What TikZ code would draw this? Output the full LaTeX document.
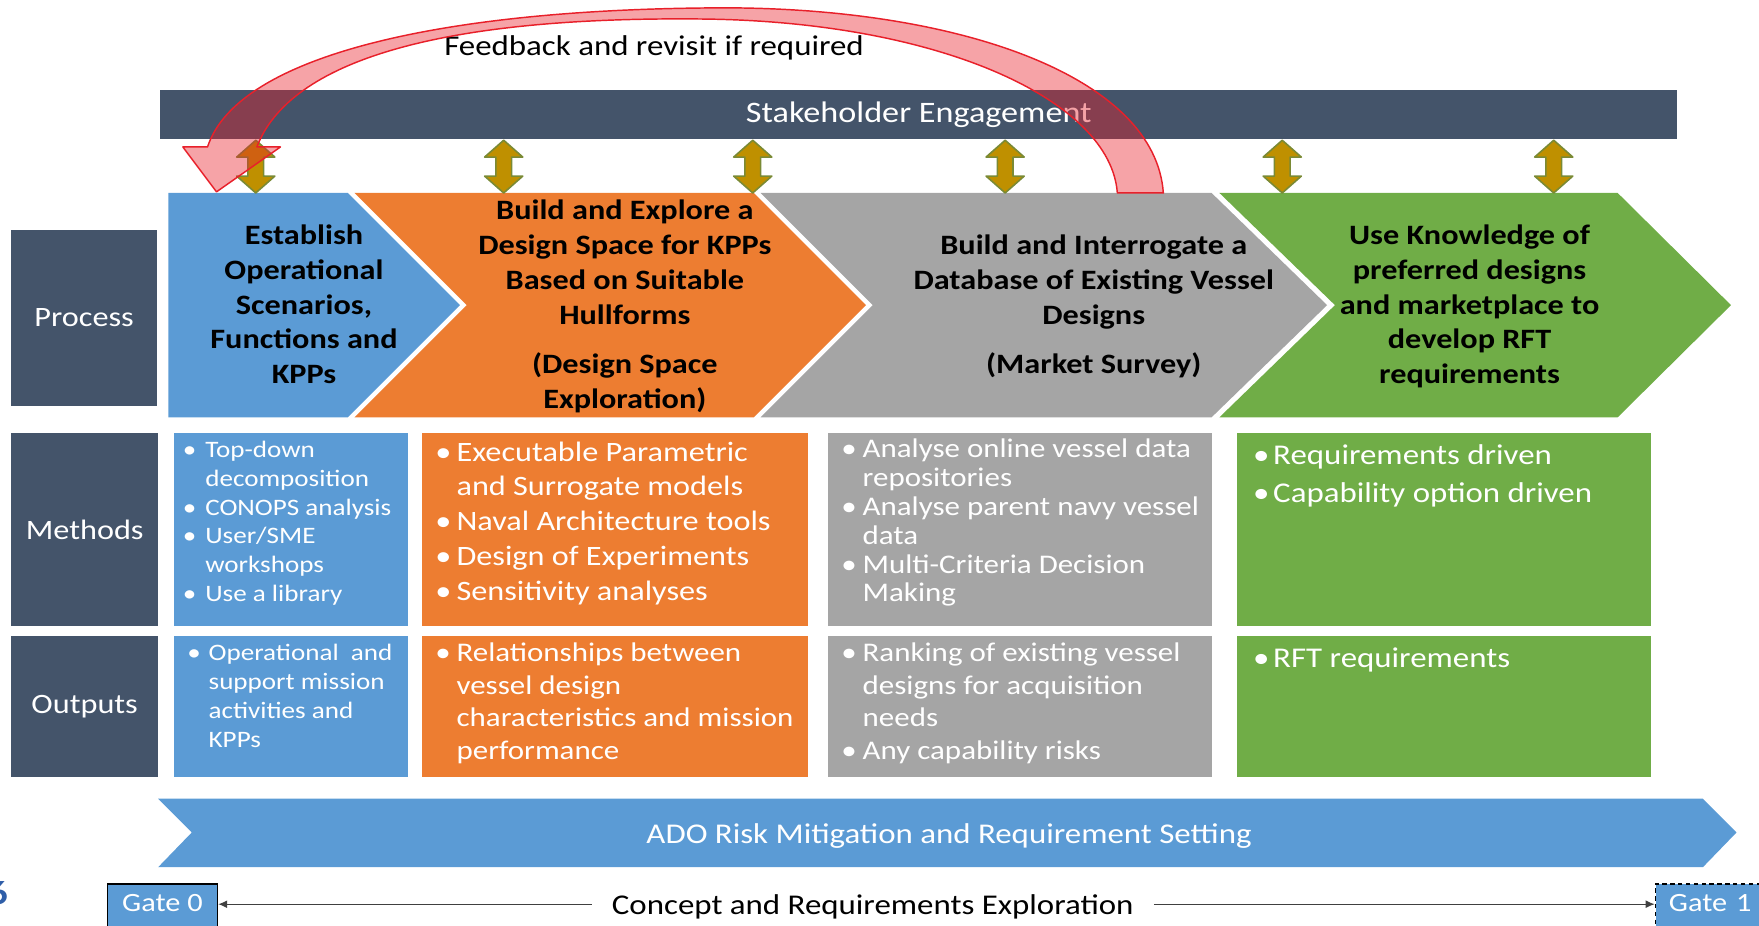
\documentclass[tikz,border=0pt]{standalone}
\usepackage{fontspec}
\setmainfont{Carlito}[FakeStretch=1.15]
\usetikzlibrary{arrows.meta}
\definecolor{slate}{HTML}{44546A}
\definecolor{cblue}{HTML}{5B9BD5}
\definecolor{corange}{HTML}{ED7D31}
\definecolor{cgray}{HTML}{A5A5A5}
\definecolor{cgreen}{HTML}{70AD47}
\definecolor{cgold}{HTML}{BF9000}
\definecolor{colive}{HTML}{7A8A35}
\definecolor{cred}{HTML}{E8202A}
\definecolor{numblue}{HTML}{2F5EA8}
\newcommand{\fsz}[2]{\fontsize{#1}{#2}\selectfont}
\newcommand{\bu}[1]{\makebox[#1][l]{\textbullet}}
\newcommand{\hi}[1]{\hspace*{#1}}
\newcommand{\tp}{\rule{0pt}{20pt}}
\begin{document}
\begin{tikzpicture}[x=1pt,y=-1pt,
  txt/.style={inner sep=0,outer sep=0},
  cell/.style={anchor=north west,inner sep=0,outer sep=0,draw=none,minimum width=#1},
  lab/.style={fill=slate,text=white,font=\fsz{25}{30},inner sep=0,outer sep=0},
  dbl/.style={fill=cgold,draw=colive,line width=1.4,line join=round},
  gl/.style={draw=black!75,line width=1,-{Latex[length=8pt,width=7pt]}},
  gate/.style={anchor=north west,fill=cblue,draw=black,line width=1.5,text=white,
     font=\fsz{23.5}{28},minimum height=58,inner ysep=0,text height=17,text depth=25},
  chev/.style={txt,anchor=north,align=center,font=\bfseries\fsz{25}{31}},
  lst/.style={txt,anchor=north west,align=left,text=white}]
\useasboundingbox (0,0) rectangle (1568,825);

% page number fragment
\node[txt,anchor=base east,font=\bfseries\fsz{30}{30},text=numblue] (pg) at (7,806) {6};

% stakeholder bar
\node[lab,minimum width=1352,minimum height=44,font=\fsz{26.5}{30}] (stake) at (819,102) {Stakeholder Engagement};
\node[txt,font=\fsz{25.5}{30}] (fb) at (583,43) {Feedback and revisit if required};

% process chevrons
\fill[cblue] (150,172) -- (310,172) -- (410,272) -- (310,372) -- (150,372) -- cycle;
\fill[corange] (316,172) -- (672,172) -- (772,272) -- (672,372) -- (316,372) -- (416,272) -- cycle;
\fill[cgray] (678,172) -- (1080,172) -- (1183,272) -- (1080,372) -- (678,372) -- (778,272) -- cycle;
\fill[cgreen] (1087,172) -- (1442,172) -- (1543,272) -- (1442,372) -- (1087,372) -- (1190,272) -- cycle;

\node[chev] (tB) at (271,198) {\tp Establish\\Operational\\Scenarios,\\Functions and\\KPPs};
\node[chev] (tO) at (557,176) {\tp Build and Explore a\\Design Space for KPPs\\Based on Suitable\\Hullforms\\[13pt](Design Space\\Exploration)};
\node[chev] (tG) at (975,207) {\tp Build and Interrogate a\\Database of Existing Vessel\\Designs\\[13pt](Market Survey)};
\node[chev] (tN) at (1310,198) {\tp Use Knowledge of\\preferred designs\\and marketplace to\\develop RFT\\requirements};

% row labels
\node[lab,minimum width=130,minimum height=157] (proc) at (75,283.5) {Process};
\node[lab,minimum width=131,minimum height=172] (meth) at (75.5,472) {Methods};
\node[lab,minimum width=131,minimum height=126] (outp) at (75.5,630) {Outputs};

% methods boxes
\node[cell=209,fill=cblue,minimum height=172] (mB) at (155,386) {};
\node[cell=344,fill=corange,minimum height=172] (mO) at (376,386) {};
\node[cell=342,fill=cgray,minimum height=172] (mG) at (738,386) {};
\node[cell=369,fill=cgreen,minimum height=172] (mN) at (1103,386) {};
% outputs boxes
\node[cell=209,fill=cblue,minimum height=126] (oB) at (155,567) {};
\node[cell=344,fill=corange,minimum height=126] (oO) at (376,567) {};
\node[cell=342,fill=cgray,minimum height=126] (oG) at (738,567) {};
\node[cell=369,fill=cgreen,minimum height=126] (oN) at (1103,567) {};

\node[lst,font=\fsz{21}{25.6}] (mBt) at (163,388) {\tp\bu{20pt}Top-down\\\hi{20pt}decomposition\\\bu{20pt}CONOPS analysis\\\bu{20pt}User/SME\\\hi{20pt}workshops\\\bu{20pt}Use a library};
\node[lst,font=\fsz{21}{25.7}] (oBt) at (167,569) {\tp\bu{19pt}Operational\ \ and\\\hi{19pt}support mission\\\hi{19pt}activities and\\\hi{19pt}KPPs};
\node[lst,font=\fsz{25}{31}] (mOt) at (388,391) {\tp\bu{19pt}Executable Parametric\\\hi{19pt}and Surrogate models\\\bu{19pt}Naval Architecture tools\\\bu{19pt}Design of Experiments\\\bu{19pt}Sensitivity analyses};
\node[lst,font=\fsz{24}{29}] (oOt) at (388,570) {\tp\bu{19pt}Relationships between\\\hi{19pt}vessel design\\\hi{19pt}characteristics and mission\\\hi{19pt}performance};
\node[lst,font=\fsz{24}{25.7}] (mGt) at (750,388) {\tp\bu{19pt}Analyse online vessel data\\\hi{19pt}repositories\\\bu{19pt}Analyse parent navy vessel\\\hi{19pt}data\\\bu{19pt}Multi-Criteria Decision\\\hi{19pt}Making};
\node[lst,font=\fsz{24}{29}] (oGt) at (750,570) {\tp\bu{19pt}Ranking of existing vessel\\\hi{19pt}designs for acquisition\\\hi{19pt}needs\\\bu{19pt}Any capability risks};
\node[lst,font=\fsz{25.5}{34}] (mNt) at (1117,394) {\tp\bu{18pt}Requirements driven\\\bu{18pt}Capability option driven};
\node[lst,font=\fsz{25.5}{34}] (oNt) at (1117,575) {\tp\bu{18pt}RFT requirements};

% ADO bar
\fill[cblue] (141,712) -- (1518,712) -- (1548,742) -- (1518,773) -- (141,773) -- (171,742) -- cycle;
\node[txt,text=white,font=\fsz{25.5}{30}] (ado) at (846,745) {ADO Risk Mitigation and Requirement Setting};

% gates
\node[gate,minimum width=98,inner xsep=0] (gate0) at (95,787) {Gate 0};
\node[gate,dash pattern=on 4pt off 3pt,text width=120,align=left,inner xsep=12] (gate1) at (1475,787) {Gate 1};
\node[txt,inner xsep=18,font=\fsz{25.5}{30},text height=22,text depth=4] (concept) at (778,806) {Concept and Requirements Exploration};
\draw[gl] (concept.west) -- (concept.west -| gate0.east);
\draw[gl] (concept.east) -- (concept.east -| gate1.west);

% stakeholder double arrows
\foreach \x in {228,449,671,896,1143,1385}{
  \filldraw[dbl] (\x,125) -- (\x+17,140) -- (\x+7,140) -- (\x+7,157) -- (\x+17,157) -- (\x,172)
     -- (\x-17,157) -- (\x-7,157) -- (\x-7,140) -- (\x-17,140) -- cycle;
}

% feedback arrow
\path[fill=cred,fill opacity=0.41,draw=cred,line width=1.3,line join=round]
  (1037,172) .. controls (1030,70) and (860,8) .. (650,7)
  .. controls (400,7) and (212,48) .. (185,131)
  -- (163,131) -- (193,171) -- (250,131) -- (229,131)
  .. controls (258,55) and (390,14) .. (630,17)
  .. controls (840,20) and (990,90) .. (996,172) -- cycle;
\end{tikzpicture}
\end{document}
